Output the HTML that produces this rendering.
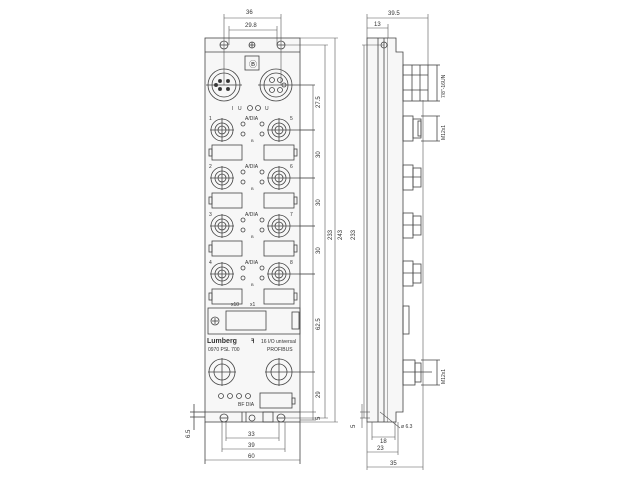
<!DOCTYPE html>
<html><head><meta charset="utf-8"><style>
html,body{margin:0;padding:0;background:#fff;}
svg{display:block}
text{font-family:"Liberation Sans",sans-serif;fill:#333}
</style></head><body>
<svg width="640" height="480" viewBox="0 0 640 480" xmlns="http://www.w3.org/2000/svg">
<g fill="none" stroke="#444" stroke-width="0.8">
<rect x="205" y="38" width="95" height="384" fill="#f7f7f7"/>
<line x1="205" y1="52" x2="300" y2="52"/>
<line x1="205" y1="412" x2="300" y2="412"/>
<line x1="205" y1="422" x2="205" y2="464"/>
<line x1="300" y1="422" x2="300" y2="464"/>
<circle cx="224" cy="45" r="4"/><line x1="220" y1="45" x2="228" y2="45"/>
<circle cx="252" cy="45" r="3"/><line x1="249" y1="45" x2="255" y2="45"/><line x1="252" y1="42" x2="252" y2="48"/>
<circle cx="281" cy="45" r="4"/><line x1="277" y1="45" x2="285" y2="45"/>
<rect x="245" y="56" width="14" height="14"/>
<text x="249" y="67" font-size="8" stroke="none">Ⓑ</text>
<circle cx="224" cy="85" r="16"/><circle cx="224" cy="85" r="12"/>
<circle cx="220" cy="81" r="1.6" fill="#333"/><circle cx="228" cy="81" r="1.6" fill="#333"/>
<circle cx="220" cy="89" r="1.6" fill="#333"/><circle cx="228" cy="89" r="1.6" fill="#333"/><circle cx="216" cy="85" r="1.6" fill="#333"/>
<circle cx="276" cy="85" r="16"/><circle cx="276" cy="85" r="12"/>
<circle cx="272" cy="80" r="2.5"/><circle cx="280" cy="80" r="2.5"/><circle cx="272" cy="90" r="2.5"/><circle cx="280" cy="90" r="2.5"/><circle cx="284" cy="85" r="2"/>
<line x1="206" y1="85" x2="242" y2="85"/><line x1="258" y1="85" x2="315" y2="85"/>
<circle cx="250" cy="108" r="2.5"/><circle cx="258" cy="108" r="2.5"/>
<text x="238" y="110" font-size="5" stroke="none">U</text><text x="265" y="110" font-size="5" stroke="none">U</text>
</g>
<defs>
<g id="row" fill="none" stroke="#444" stroke-width="0.8">
<circle cx="222" cy="0" r="11"/><circle cx="222" cy="0" r="7"/><circle cx="222" cy="0" r="4"/>
<circle cx="279" cy="0" r="11"/><circle cx="279" cy="0" r="7"/><circle cx="279" cy="0" r="4"/>
<line x1="222" y1="-12" x2="222" y2="12"/><line x1="210" y1="0" x2="234" y2="0"/>
<line x1="279" y1="-12" x2="279" y2="12"/><line x1="267" y1="0" x2="315" y2="0"/>
<circle cx="243" cy="-6" r="2"/><circle cx="243" cy="4" r="2"/>
<circle cx="262" cy="-6" r="2"/><circle cx="262" cy="4" r="2"/>
<text x="245" y="-10" font-size="5" stroke="none">A/DIA</text>
<text x="251" y="12" font-size="4" stroke="none">B</text>
<rect x="212" y="15" width="30" height="15"/><rect x="209" y="19" width="3" height="7"/>
<rect x="264" y="15" width="30" height="15"/><rect x="294" y="19" width="3" height="7"/>
</g>
</defs>
<use href="#row" x="0" y="130"/>
<use href="#row" x="0" y="178"/>
<use href="#row" x="0" y="226"/>
<use href="#row" x="0" y="274"/>
<g stroke="none" font-size="5">
<text x="209" y="120">1</text><text x="290" y="120">5</text>
<text x="209" y="168">2</text><text x="290" y="168">6</text>
<text x="209" y="216">3</text><text x="290" y="216">7</text>
<text x="209" y="264">4</text><text x="290" y="264">8</text>
<text x="231" y="306">x10</text><text x="250" y="306">x1</text>
</g>
<g fill="none" stroke="#444" stroke-width="0.8">
<rect x="208" y="308" width="92" height="26"/>
<rect x="226" y="311" width="40" height="19"/>
<circle cx="215" cy="321" r="4"/><line x1="212" y1="321" x2="218" y2="321"/><line x1="215" y1="318" x2="215" y2="324"/>
<rect x="292" y="312" width="7" height="17"/>
<circle cx="222" cy="372" r="13"/><circle cx="222" cy="372" r="8"/>
<circle cx="279" cy="372" r="13"/><circle cx="279" cy="372" r="8"/>
<line x1="222" y1="358" x2="222" y2="386"/><line x1="208" y1="372" x2="236" y2="372"/>
<line x1="279" y1="358" x2="279" y2="386"/><line x1="265" y1="372" x2="315" y2="372"/>
<circle cx="221" cy="396" r="2.5"/><circle cx="230" cy="396" r="2.5"/><circle cx="239" cy="396" r="2.5"/><circle cx="248" cy="396" r="2.5"/>
<rect x="260" y="393" width="32" height="15"/><rect x="292" y="398" width="3" height="6"/>
<circle cx="224" cy="418" r="4"/><line x1="220" y1="418" x2="228" y2="418"/>
<circle cx="252" cy="418" r="3"/><line x1="242" y1="412" x2="242" y2="422"/><line x1="246" y1="412" x2="246" y2="422"/>
<rect x="263" y="412" width="10" height="10"/>
<circle cx="281" cy="418" r="4"/><line x1="277" y1="418" x2="285" y2="418"/>
<line x1="190" y1="412" x2="205" y2="412"/><line x1="190" y1="417" x2="205" y2="417"/><line x1="194" y1="404" x2="194" y2="430"/>
</g>
<g stroke="none">
<text x="207" y="343" font-size="7" font-weight="bold" fill="#222">Lumberg</text>
<text x="261" y="343" font-size="5">16 I/O universal</text>
<text x="251" y="343" font-size="6" font-weight="bold">ꟻ</text>
<text x="208" y="351" font-size="5">0970 PSL 700</text>
<text x="267" y="351" font-size="5">PROFIBUS</text>
<text x="238" y="406" font-size="5">BF DIA</text>
<text x="232" y="110" font-size="5">I</text>
</g>
<g fill="none" stroke="#555" stroke-width="0.6">
<line x1="224" y1="14" x2="224" y2="85"/><line x1="281" y1="14" x2="281" y2="85"/>
<line x1="224" y1="18" x2="281" y2="18"/>
<line x1="229" y1="26" x2="229" y2="45"/><line x1="277" y1="26" x2="277" y2="45"/>
<line x1="229" y1="30" x2="277" y2="30"/>
<line x1="313" y1="85" x2="313" y2="420"/>
<line x1="300" y1="130" x2="315" y2="130"/><line x1="300" y1="178" x2="315" y2="178"/><line x1="300" y1="226" x2="315" y2="226"/><line x1="300" y1="274" x2="315" y2="274"/>
<line x1="300" y1="412" x2="316" y2="412"/><line x1="300" y1="420" x2="316" y2="420"/>
<line x1="285" y1="45" x2="328" y2="45"/><line x1="325" y1="45" x2="325" y2="418"/><line x1="285" y1="418" x2="328" y2="418"/>
<line x1="300" y1="38" x2="338" y2="38"/><line x1="335" y1="38" x2="335" y2="422"/><line x1="300" y1="422" x2="338" y2="422"/>
<line x1="226" y1="422" x2="226" y2="441"/><line x1="279" y1="422" x2="279" y2="441"/><line x1="226" y1="438" x2="279" y2="438"/>
<line x1="222" y1="422" x2="222" y2="452"/><line x1="285" y1="422" x2="285" y2="452"/><line x1="222" y1="449" x2="285" y2="449"/>
<line x1="205" y1="460" x2="300" y2="460"/>
</g>
<g stroke="none" font-size="6">
<text x="246" y="14">36</text><text x="245" y="27">29.8</text>
<text x="248" y="436">33</text><text x="248" y="447">39</text><text x="248" y="458">60</text>
<g transform="translate(320,108) rotate(-90)"><text>27.5</text></g>
<g transform="translate(320,158) rotate(-90)"><text>30</text></g>
<g transform="translate(320,206) rotate(-90)"><text>30</text></g>
<g transform="translate(320,254) rotate(-90)"><text>30</text></g>
<g transform="translate(320,330) rotate(-90)"><text>62.5</text></g>
<g transform="translate(320,398) rotate(-90)"><text>29</text></g>
<g transform="translate(320,420) rotate(-90)"><text>5</text></g>
<g transform="translate(332,240) rotate(-90)"><text>233</text></g>
<g transform="translate(342,240) rotate(-90)"><text>243</text></g>
<g transform="translate(190,438) rotate(-90)"><text>6.5</text></g>
<g transform="translate(355,240) rotate(-90)"><text>233</text></g>
<g transform="translate(355,428) rotate(-90)"><text>5</text></g>
</g>
<g fill="none" stroke="#444" stroke-width="0.8">
<rect x="367" y="38" width="21" height="384" fill="#f7f7f7"/>
<line x1="378" y1="38" x2="378" y2="422"/>
<line x1="384" y1="38" x2="384" y2="422"/>
<polyline points="388,38 396,38 396,52 403,52 403,412 396,412 396,422 388,422" fill="#f7f7f7"/>
<circle cx="384" cy="45" r="3"/>
<rect x="403" y="65" width="25" height="36"/><line x1="403" y1="75" x2="428" y2="75"/><line x1="403" y1="90" x2="428" y2="90"/><line x1="412" y1="65" x2="412" y2="101"/><line x1="420" y1="65" x2="420" y2="101"/>
<rect x="403" y="116" width="10" height="25"/><rect x="413" y="119" width="8" height="19"/><rect x="418" y="121" width="3" height="15"/>
<rect x="403" y="165" width="10" height="25"/><rect x="413" y="168" width="8" height="19"/><line x1="403" y1="177" x2="421" y2="177"/>
<rect x="403" y="213" width="10" height="25"/><rect x="413" y="216" width="8" height="19"/><line x1="403" y1="225" x2="421" y2="225"/>
<rect x="403" y="261" width="10" height="25"/><rect x="413" y="264" width="8" height="19"/><line x1="403" y1="273" x2="421" y2="273"/>
<rect x="403" y="306" width="6" height="28"/>
<rect x="403" y="360" width="12" height="25"/><rect x="415" y="363" width="6" height="19"/><line x1="403" y1="372" x2="432" y2="372"/>
<line x1="421" y1="360" x2="440" y2="360"/><line x1="421" y1="385" x2="440" y2="385"/><line x1="437" y1="360" x2="437" y2="385"/>
<line x1="421" y1="116" x2="440" y2="116"/><line x1="421" y1="141" x2="440" y2="141"/><line x1="437" y1="116" x2="437" y2="141"/>
<line x1="428" y1="65" x2="440" y2="65"/><line x1="428" y1="101" x2="440" y2="101"/><line x1="437" y1="65" x2="437" y2="101"/>
</g>
<g fill="none" stroke="#555" stroke-width="0.6">
<line x1="367" y1="14" x2="367" y2="38"/><line x1="428" y1="14" x2="428" y2="65"/><line x1="367" y1="18" x2="428" y2="18"/>
<line x1="388" y1="24" x2="388" y2="38"/><line x1="367" y1="28" x2="388" y2="28"/>
<line x1="362" y1="45" x2="384" y2="45"/><line x1="364" y1="45" x2="364" y2="418"/><line x1="360" y1="418" x2="370" y2="418"/>
<line x1="360" y1="412" x2="370" y2="412"/><line x1="362" y1="404" x2="362" y2="428"/>
<line x1="380" y1="412" x2="400" y2="428"/>
<line x1="372" y1="422" x2="372" y2="440"/><line x1="395" y1="422" x2="395" y2="440"/><line x1="372" y1="437" x2="395" y2="437"/>
<line x1="398" y1="422" x2="398" y2="455"/><line x1="367" y1="452" x2="398" y2="452"/>
<line x1="367" y1="422" x2="367" y2="470"/><line x1="423" y1="100" x2="423" y2="470"/><line x1="367" y1="467" x2="423" y2="467"/>
</g>
<g stroke="none" font-size="6">
<text x="388" y="15">39.5</text><text x="374" y="26">13</text>
<text x="380" y="443">18</text><text x="377" y="450">23</text><text x="390" y="465">35</text>
<text x="401" y="428" font-size="5">ø 6.3</text>
<g transform="translate(445,98) rotate(-90)"><text font-size="5">7/8"-16UN</text></g>
<g transform="translate(445,140) rotate(-90)"><text font-size="5">M12x1</text></g>
<g transform="translate(445,384) rotate(-90)"><text font-size="5">M12x1</text></g>
</g>
</svg>
</body></html>
